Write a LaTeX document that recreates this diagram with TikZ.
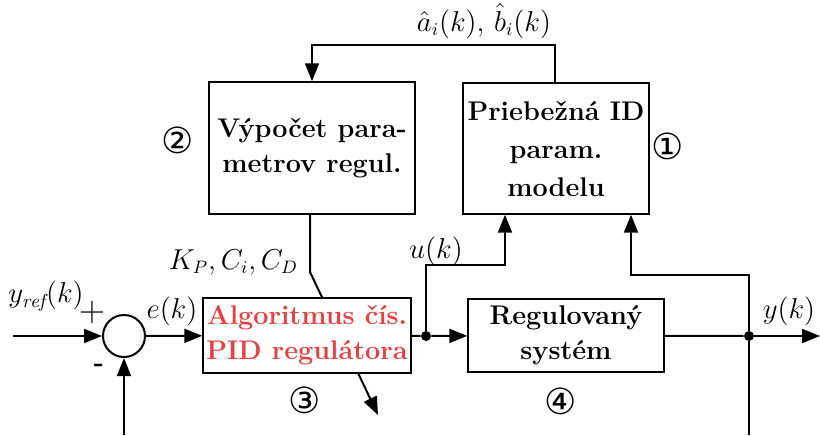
\documentclass[tikz,border=0pt]{standalone}
\usepackage{fontspec}
\newfontfamily\circfont{DejaVu Sans}
\usetikzlibrary{arrows.meta, positioning, backgrounds}
\usepackage{amsmath}
\definecolor{pidred}{RGB}{240,60,60}

\tikzset{
  block/.style={draw, line width=0.7pt, fill=white, align=center, inner sep=1pt,
    font=\fontsize{13.5}{17.5}\selectfont\bfseries},
  sumnode/.style={draw, circle, line width=1pt, minimum size=21pt, inner sep=0pt},
  dot/.style={circle, fill, inner sep=0pt, minimum size=5pt},
  num/.style={font=\circfont\fontsize{18}{18}\selectfont},
  lab/.style={font=\fontsize{13.5}{16}\selectfont},
  wire/.style={line width=1pt},
  sig/.style={wire, -{Triangle[length=9pt,width=7pt]}}
}

\begin{document}
\begin{tikzpicture}[x=0.5pt,y=-0.5pt]
\useasboundingbox (0,0) rectangle (820,435);

% bloky
\node[block, minimum width=103pt, minimum height=66pt] (vypocet) at (312,148) {Výpočet para-\\metrov regul.};
\node[block, minimum width=93pt, minimum height=65.5pt, font=\fontsize{13.5}{19}\selectfont\bfseries] (ident) at (556,148.5) {Priebežná ID\\param.\\modelu};
\node[block, minimum width=104pt, minimum height=37.5pt, text=pidred] (pid) at (307,335.5) {Algoritmus čís.\\PID regulátora};
\node[block, minimum width=98pt, minimum height=36.5pt] (system) at (566,335.5) {Regulovaný\\systém};
\node[sumnode] (sum) at (124,336) {};
\node[dot] (ju) at (426,336) {};
\node[dot] (jy) at (749,336) {};

\coordinate (in) at (13,336);
\coordinate (out) at (820,336);
\coordinate (fbl) at (124,435);
\coordinate (fbr) at (749,435);
\coordinate (uk) at (505,265);
\coordinate (yk) at (631,275);
\coordinate (ab) at (555,45);
\coordinate (kp) at (310,272);
\coordinate (tun) at (378,415);

% spojenia
\draw[sig] (in) -- (sum);
\draw[sig] (sum) -- (pid);
\draw[wire] (pid) -- (ju);
\draw[sig] (ju) -- (system);
\draw[wire] (system) -- (jy);
\draw[sig] (jy) -- (out);
\draw[sig] (fbl) -- (sum);
\draw[wire] (jy) -- (fbr);
\draw[sig] (ju) |- (uk) -- (uk |- ident.south);
\draw[sig] (jy) |- (yk) -- (yk |- ident.south);
\draw[sig] (ab |- ident.north) -- (ab) -| (vypocet.north);
\begin{scope}[on background layer]
\draw[sig] (vypocet.south -| kp) -- (kp) -- (tun);
\end{scope}

% popisy
\node[lab] (yref) at (46,296) {$y_{\mathit{ref}}(k)$};
\node[lab, font=\fontsize{18}{18}\selectfont] (plus) at (92,313) {+};
\node[lab] (minus) at (99,368) {\textbf{-}};
\node[lab] (ek) at (172,311) {$e(k)$};
\node[lab, anchor=east] (kpcd) at (305,262) {$K_P, C_i, C_D$};
\node[lab] (ukl) at (436,251) {$u(k)$};
\node[lab] (ykl) at (789,311) {$y(k)$};
\node[lab] (abl) at (484,21) {$\hat{a}_i(k),\, \hat{b}_i(k)$};

\node[num] (n1) at (668,146) {①};
\node[num] (n2) at (178,140) {②};
\node[num] (n3) at (305,400) {③};
\node[num] (n4) at (561,401) {④};
\end{tikzpicture}
\end{document}
